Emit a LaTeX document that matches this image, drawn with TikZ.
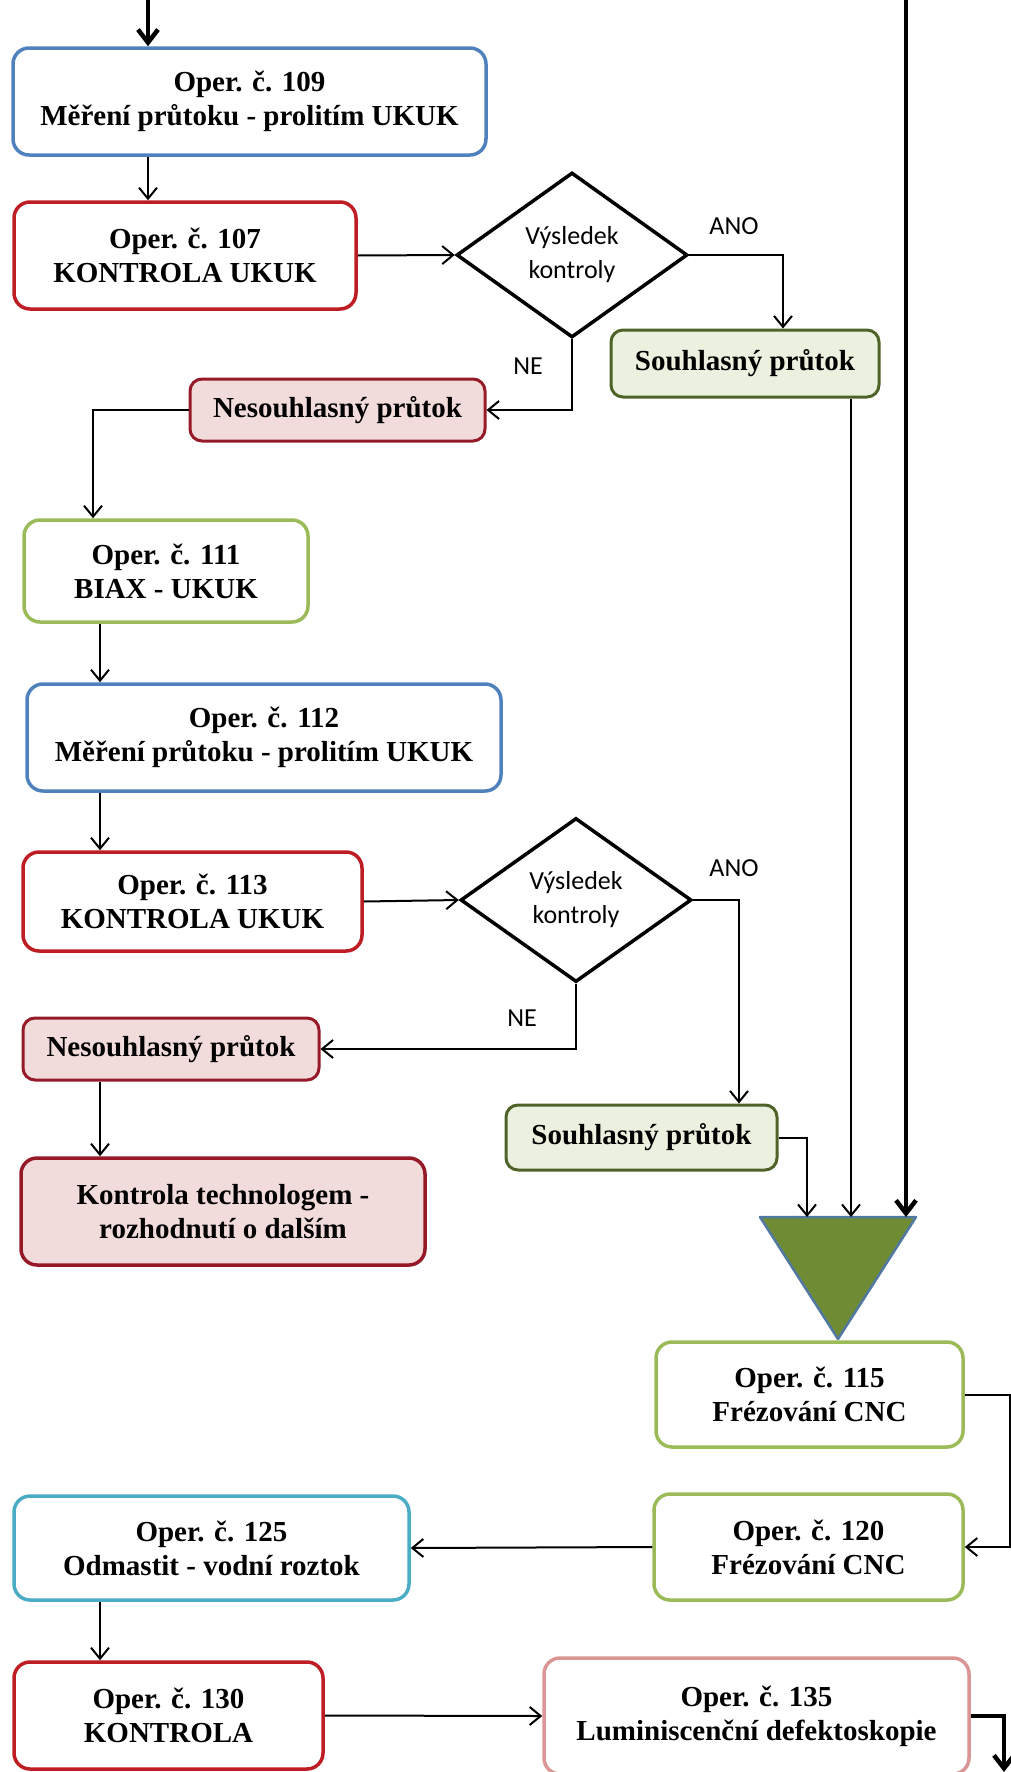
\documentclass[tikz,border=0pt]{standalone}
\usepackage{fontspec}
\setmainfont{Liberation Serif}
\newfontfamily\calfont{Carlito}
\usetikzlibrary{shapes.geometric,arrows.meta}

\definecolor{opblue}{RGB}{79,129,189}
\definecolor{opred}{RGB}{190,30,35}
\definecolor{opgreen}{RGB}{155,187,89}
\definecolor{opcyan}{RGB}{75,172,198}
\definecolor{oppink}{RGB}{217,150,148}
\definecolor{nesred}{RGB}{150,25,40}
\definecolor{nesfill}{RGB}{242,220,219}
\definecolor{souborder}{RGB}{79,98,40}
\definecolor{soufill}{RGB}{235,241,222}
\definecolor{trigreen}{RGB}{111,140,52}
\definecolor{triblue}{RGB}{80,120,160}

\tikzset{
  oper/.style={draw, line width=3.5pt, rounded corners=16pt, fill=white,
    align=center, inner sep=0pt, font=\bfseries\fontsize{29}{34}\selectfont},
  flag/.style={oper, line width=3pt, rounded corners=12pt},
  decision/.style={diamond, draw, line width=3.5pt, align=center, inner sep=0pt,
    minimum width=231pt, minimum height=165pt,
    font=\calfont\fontsize{26}{34}\selectfont},
  answer/.style={inner sep=0pt, font=\calfont\fontsize{26}{30}\selectfont},
  arr/.style={line width=2pt, -{Straight Barb[length=11pt,width=18pt]}},
  mainarr/.style={line width=4.5pt, -{Straight Barb[length=13pt,width=20pt]}}
}

\begin{document}
\begin{tikzpicture}[x=1pt,y=-1pt]
  \useasboundingbox (0,0) rectangle (1010,1772);
  \pgfmathsetmacro{\lane}{100}
  %
  % left column
  \node[oper, draw=opblue, minimum width=473pt, minimum height=107pt] (op109) at (249.5,101.5)
    {Oper. č. 109\\Měření průtoku - prolitím UKUK};
  \node[oper, draw=opred, minimum width=342pt, minimum height=107pt] (op107) at (185,255.5)
    {Oper. č. 107\\KONTROLA UKUK};
  \node[decision] (dec1) at (572,255) {Výsledek\\kontroly};
  \node[flag, draw=souborder, fill=soufill, minimum width=268pt, minimum height=67pt] (souhl1) at (745,363.5)
    {Souhlasný průtok};
  \node[flag, draw=nesred, fill=nesfill, minimum width=295pt, minimum height=62pt] (nes1) at (337.5,410)
    {Nesouhlasný průtok};
  \node[answer] (ano1) at (734,226) {ANO};
  \node[answer] (ne1) at (528,366) {NE};
  %
  \node[oper, draw=opgreen, minimum width=284pt, minimum height=102pt] (op111) at (166,571)
    {Oper. č. 111\\BIAX - UKUK};
  \node[oper, draw=opblue, minimum width=474pt, minimum height=107pt] (op112) at (264,737.5)
    {Oper. č. 112\\Měření průtoku - prolitím UKUK};
  \node[oper, draw=opred, minimum width=339pt, minimum height=99pt] (op113) at (192.5,901.5)
    {Oper. č. 113\\KONTROLA UKUK};
  \node[decision, minimum height=164pt] (dec2) at (576,900) {Výsledek\\kontroly};
  \node[flag, draw=nesred, fill=nesfill, minimum width=296pt, minimum height=62pt] (nes2) at (171,1049)
    {Nesouhlasný průtok};
  \node[flag, draw=souborder, fill=soufill, minimum width=271pt, minimum height=65pt] (souhl2) at (641.5,1137.5)
    {Souhlasný průtok};
  \node[oper, draw=nesred, fill=nesfill, minimum width=404pt, minimum height=107pt] (tech) at (223,1211.5)
    {Kontrola technologem -\\rozhodnutí o dalším};
  \node[answer] (ano2) at (734,868) {ANO};
  \node[answer] (ne2) at (522,1018) {NE};
  %
  % merge triangle
  \coordinate (trileft) at (760,1217);
  \coordinate (triright) at (916,1217);
  \coordinate (tritip) at (838,1339);
  \filldraw[fill=trigreen, draw=triblue, line width=2.5pt, line join=round]
    (trileft) -- (triright) -- (tritip) -- cycle;
  \coordinate (in1) at (807,1217);
  \coordinate (in2) at (851,1217);
  \coordinate (in3) at (906,1217);
  %
  % lower part
  \node[oper, draw=opgreen, minimum width=307pt, minimum height=105pt] (op115) at (809.5,1394.5)
    {Oper. č. 115\\Frézování CNC};
  \node[oper, draw=opgreen, minimum width=309pt, minimum height=106pt] (op120) at (808.5,1547)
    {Oper. č. 120\\Frézování CNC};
  \node[oper, draw=opcyan, minimum width=395pt, minimum height=104pt] (op125) at (211.5,1548)
    {Oper. č. 125\\Odmastit - vodní roztok};
  \node[oper, draw=opred, minimum width=309pt, minimum height=107pt] (op130) at (168.5,1715.5)
    {Oper. č. 130\\KONTROLA};
  \node[oper, draw=oppink, minimum width=425pt, minimum height=116pt] (op135) at (756.5,1716)
    {Oper. č. 135\\Luminiscenční defektoskopie};
  %
  % connectors
  \coordinate (start) at (148,0);
  \coordinate (feed) at (906,0);
  \coordinate (out) at (1004,1772);
  \draw[mainarr] (start) -- (op109.north -| start);
  \draw[arr] (op109.south -| start) -- (op107.north -| start);
  \draw[arr] (op107.east) -- (dec1.west);
  \draw[arr] (dec1.east) -| ([xshift=38pt]souhl1.north);
  \draw[arr] (dec1.south) |- (nes1.east);
  \draw[arr] (nes1.west) -| ([xshift=-73pt]op111.north);
  \draw[arr] (op111.south -| \lane,0) -- (op112.north -| \lane,0);
  \draw[arr] (op112.south -| \lane,0) -- (op113.north -| \lane,0);
  \draw[arr] (op113.east) -- (dec2.west);
  \draw[arr] (dec2.east) -| ([xshift=97.5pt]souhl2.north);
  \draw[arr] (dec2.south) |- (nes2.east);
  \draw[arr] (nes2.south -| \lane,0) -- (tech.north -| \lane,0);
  \draw[arr] (souhl2.east) -| (in1);
  \draw[arr] (souhl1.south -| in2) -- (in2);
  \draw[mainarr] (feed) -- (in3);
  \draw[arr] (op115.east) -- ++(45,0) |- (op120.east);
  \draw[arr] (op120.west) -- (op125.east);
  \draw[arr] (op125.south -| \lane,0) -- (op130.north -| \lane,0);
  \draw[arr] (op130.east) -- (op135.west);
  \draw[mainarr] (op135.east) -| (out);
\end{tikzpicture}
\end{document}
